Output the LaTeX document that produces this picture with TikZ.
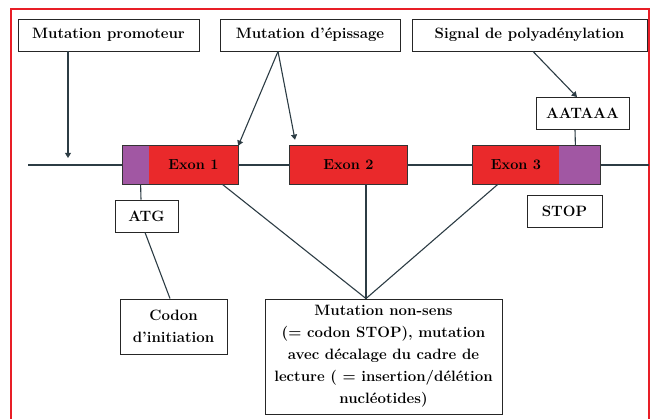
\documentclass[tikz,border=0pt]{standalone}
\usepackage{tikz}
\usetikzlibrary{calc,positioning,arrows.meta}
\definecolor{exonred}{RGB}{234,41,43}
\definecolor{utrpurple}{RGB}{161,87,163}
\definecolor{framered}{RGB}{232,30,38}
\definecolor{linkgray}{RGB}{44,60,68}
\tikzset{
    label box/.style={
        draw=black!85,line width=0.9pt,
        fill=white,inner sep=0pt,
        align=center,
        font=\fontsize{15}{22}\selectfont\bfseries
    },
    exon box/.style={
        fill=exonred,inner sep=0pt,
        minimum height=38pt,
        font=\fontsize{14.5}{16}\selectfont\bfseries
    },
    utr box/.style={exon box,fill=utrpurple},
    exon outline/.style={draw=black!80,line width=1.1pt},
    link/.style={draw=linkgray,line width=1.1pt},
    >={[scale=0.9]Triangle}
}

\begin{document}
\begin{tikzpicture}[x=1pt,y=-1pt]
\useasboundingbox (0,0) rectangle (652,419);
\draw[framered,line width=2pt] (11,419) -- (11,9) -- (649,9) -- (649,419);
% boites du haut
\foreach \name/\x/\y/\w/\txt in {promo/108.5/35/181/Mutation promoteur,
                                 splice/310/35/180/Mutation d’épissage,
                                 polya/529.5/35/235/Signal de polyadénylation,
                                 aataaa/582.5/113.5/93/AATAAA,
                                 atg/146.5/216/63/ATG,
                                 stop/564.5/211/75/STOP}
    \node[label box,minimum width=\w pt,minimum height=32pt] (\name) at (\x,\y) {\txt};
\node[label box,minimum width=107pt,minimum height=55pt] (codon) at (173.5,326.5) {Codon\\d’initiation};
\node[label box,minimum width=237pt,minimum height=115pt] (nonsense) at (383.5,356.5)
    {Mutation non-sens\\(= codon STOP), mutation\\avec décalage du cadre de\\lecture ( = insertion/délétion\\nucléotides)};
% ADN et exons
\coordinate (dna_start) at (28,165);
\coordinate (dna_end) at (649,165);
\node[exon box,minimum width=89pt] (exon1) at (193.5,165) {Exon 1};
\node[utr box,minimum width=26pt,left=0pt of exon1] (utr5) {};
\node[exon box,minimum width=117pt] (exon2) at (348.5,165) {Exon 2};
\node[exon box,minimum width=86pt] (exon3) at (516,165) {Exon 3};
\node[utr box,minimum width=41pt,right=0pt of exon3] (utr3) {};
\foreach \first/\last in {utr5/exon1,exon2/exon2,exon3/utr3}
    \draw[exon outline] (\first.north west) rectangle (\last.south east);
\draw[link] (dna_start) -- (utr5.west);
\draw[link] (exon1.east) -- (exon2.west);
\draw[link] (exon2.east) -- (exon3.west);
\draw[link] (utr3.east) -- (dna_end);
% fleches
\coordinate (promo_tip) at (68,158);
\draw[link,->] (promo.south -| promo_tip) -- (promo_tip);
\draw[link,->] ([xshift=-32pt]splice.south) -- (exon1.north east);
\draw[link,->] ([xshift=-32pt]splice.south) -- ([xshift=-53.5pt,yshift=6pt]exon2.north);
\draw[link,->] ([xshift=3.5pt]polya.south) -- ([xshift=-5.5pt]aataaa.north);
\draw[link] ([xshift=-7.5pt]aataaa.south) -- ([xshift=-4.5pt]utr3.north);
\draw[link] ([xshift=-5.5pt]atg.north) -- ([xshift=5pt]utr5.south);
\draw[link] ([xshift=-1.5pt]atg.south) -- ([xshift=-3.5pt]codon.north);
\foreach \target/\dx in {exon1.south east/-16,exon2.south/17.5,exon3.south/-18}
    \draw[link] ([xshift=-17.5pt]nonsense.north) -- ([xshift=\dx pt]\target);
\end{tikzpicture}
\end{document}
